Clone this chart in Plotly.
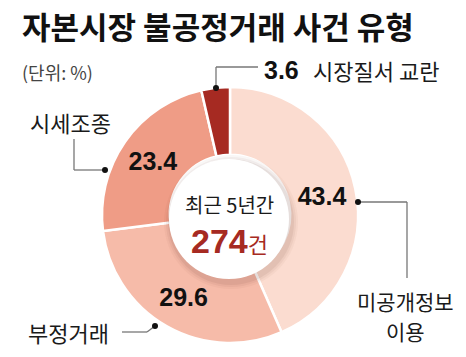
import plotly.graph_objects as go

W, H = 466, 357

categories = ["미공개정보 이용", "부정거래", "시세조종", "시장질서 교란"]
values = [43.4, 29.6, 23.4, 3.6]
colors = ["#FBDCD0", "#F6BBA9", "#EF9C86", "#A62A22"]
title = "자본시장 불공정거래 사건 유형"
unit = "(단위: %)"
center_line1 = "최근 5년간"
center_total = "274"
center_unit = "건"

KR = "Noto Sans CJK KR"
NUM = "Liberation Sans Narrow, Liberation Sans, Noto Sans CJK KR"
RED = "#A62A22"

def px(x):
    return x / W

def py(y):
    return 1 - y / H

cx, cy, R = 230, 215, 128
fig = go.Figure()
fig.add_trace(go.Pie(
    labels=categories,
    values=values,
    text=[f"{v:.1f}" for v in values],
    textinfo="text",
    textposition=["inside", "inside", "inside", "none"],
    insidetextorientation="horizontal",
    textfont=dict(family=NUM, size=25, color="#111111", weight="bold"),
    marker=dict(colors=colors, line=dict(color="white", width=2.5)),
    hole=0.47,
    sort=False,
    direction="clockwise",
    rotation=0,
    domain=dict(x=[px(cx - R), px(cx + R)], y=[py(cy + R), py(cy - R)]),
    showlegend=False,
    hoverinfo="label+value",
))

shapes = []
# soft shadow around the centre disc
hr = 60
hx, hy = 229, 219
for dr, op in [(7, 0.04), (5, 0.05), (3, 0.07)]:
    shapes.append(dict(type="circle", xref="paper", yref="paper",
                       x0=px(hx + 2 - hr - dr), x1=px(hx + 2 + hr + dr),
                       y0=py(hy + 3 + hr + dr), y1=py(hy + 3 - hr - dr),
                       fillcolor=f"rgba(90,40,30,{op})", line=dict(width=0), layer="above"))
shapes.append(dict(type="circle", xref="paper", yref="paper",
                   x0=px(hx - hr), x1=px(hx + hr), y0=py(hy + hr), y1=py(hy - hr),
                   fillcolor="white", line=dict(width=0), layer="above"))

LINE = dict(color="#777777", width=1.3)
def seg(pts):
    for (x0, y0), (x1, y1) in zip(pts[:-1], pts[1:]):
        shapes.append(dict(type="line", xref="paper", yref="paper",
                           x0=px(x0), y0=py(y0), x1=px(x1), y1=py(y1), line=LINE, layer="above"))

def dot(x, y, r=3):
    shapes.append(dict(type="circle", xref="paper", yref="paper",
                       x0=px(x - r), x1=px(x + r), y0=py(y + r), y1=py(y - r),
                       fillcolor="#111111", line=dict(width=0), layer="above"))

seg([(216, 88), (216, 67), (258, 67)])
dot(216, 88)
seg([(74, 139), (74, 170), (105, 170)])
dot(105, 170)
seg([(358, 202), (407, 202), (407, 278)])
dot(358, 202)
seg([(122, 332), (147, 332), (155, 326)])
dot(155, 326)

ann = []
def text(x, y, s, size, family=KR, color="#1a1a1a", xanchor="left", bold=False):
    ann.append(dict(x=px(x), y=py(y), xref="paper", yref="paper", text=(f"<b>{s}</b>" if bold else s),
                    showarrow=False, xanchor=xanchor, yanchor="middle",
                    font=dict(family=family, size=size, color=color)))

text(20, 26, title, 31, bold=True, color="#111111")
text(20, 72, unit, 18, color="#444444")
text(262, 70, f"{values[3]:.1f}", 25, family=NUM, bold=True, color="#111111")
text(311, 70, categories[3], 22)
text(28, 122, categories[2], 22)
text(405, 301, "미공개정보", 21, xanchor="center")
text(405, 331, "이용", 21, xanchor="center")
text(26, 332, categories[1], 22)
text(229, 204, center_line1, 20, xanchor="center")
ann.append(dict(x=px(229), y=py(241), xref="paper", yref="paper", showarrow=False,
                xanchor="center", yanchor="middle",
                text=f"<b><span style='font-size:34px'>{center_total}</span></b>"
                     f"<span style='font-size:22px;font-family:{KR}'>{center_unit}</span>",
                font=dict(family=NUM, size=34, color=RED)))

fig.update_layout(
    width=W, height=H,
    margin=dict(l=0, r=0, t=0, b=0),
    paper_bgcolor="white", plot_bgcolor="white",
    shapes=shapes, annotations=ann,
)
fig.write_html("out.html", config={"displayModeBar": False},
               post_script="document.body.style.margin='0';document.body.style.padding='0';")
